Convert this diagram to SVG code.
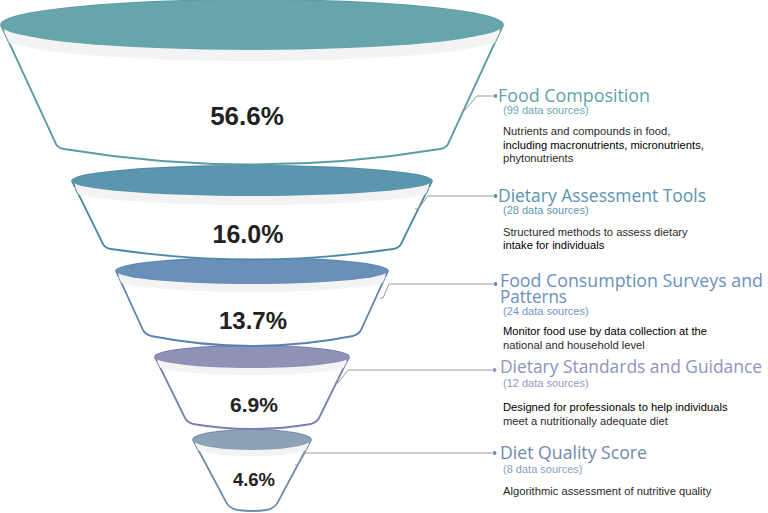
<svg xmlns="http://www.w3.org/2000/svg" width="768" height="513" viewBox="0 0 768 513">
<style>
.body{fill:#ffffff;stroke-width:1.8;stroke-linejoin:round}
.band{fill:#f3f3f3}
.pct{font-family:"Liberation Sans",Arial,sans-serif;font-weight:bold;fill:#222;text-anchor:middle}
.title{font-family:"Open Sans","Liberation Sans",sans-serif;font-size:18px}
.sub{font-family:"Liberation Sans",Arial,sans-serif;font-size:11px}
.desc{font-family:"Liberation Sans",Arial,sans-serif;font-size:11.2px;fill:#2a2a2a}
.descb{font-family:"Liberation Sans",Arial,sans-serif;font-size:11.2px;fill:#000}
.conn{fill:none;stroke:#9a9a9a;stroke-width:1}
</style>
<defs>
<clipPath id="c1"><path d="M1,25 L56,144 Q58,148 64,149 Q252,180 440,149 Q446,148 448,144 L503,25 Z"/></clipPath>
<clipPath id="c2"><path d="M72,181 L103,244 Q105,248 111,249 Q252,270 393,249 Q399,248 401,244 L432,181 Z"/></clipPath>
<clipPath id="c3"><path d="M116,271 L143,330 Q145,334 151,336 Q252,356 353,336 Q359,334 361,330 L388,271 Z"/></clipPath>
<clipPath id="c4"><path d="M155,357 L185,418 Q187,422 193,424 Q252,434 311,424 Q317,422 319,418 L349,357 Z"/></clipPath>
<clipPath id="c5"><path d="M193,440 L225,500 Q229,509 238,510 Q252,512 266,510 Q275,509 279,500 L311,440 Z"/></clipPath>
</defs>

<g id="seg5">
<path class="body" stroke="#6f8cab" d="M193,440 L225,500 Q229,509 238,510 Q252,512 266,510 Q275,509 279,500 L311,440 A59,10 0 0 0 193,440 Z"/>
<ellipse class="band" clip-path="url(#c5)" cx="252" cy="446" rx="60" ry="10"/>
<ellipse cx="252" cy="440" rx="59" ry="10" fill="#8ca2b6"/>
<text class="pct" x="254" y="486" font-size="18.5">4.6%</text>
</g>

<g id="seg4">
<path class="body" stroke="#7b7fb0" d="M155,357 L185,418 Q187,422 193,424 Q252,434 311,424 Q317,422 319,418 L349,357 A97,11 0 0 0 155,357 Z"/>
<ellipse class="band" clip-path="url(#c4)" cx="252" cy="364" rx="98" ry="11"/>
<ellipse cx="252" cy="357" rx="97" ry="11" fill="#8e92b6"/>
<text class="pct" x="254" y="412" font-size="21">6.9%</text>
</g>

<g id="seg3">
<path class="body" stroke="#5b80b2" d="M116,271 L143,330 Q145,334 151,336 Q252,356 353,336 Q359,334 361,330 L388,271 A136,13 0 0 0 116,271 Z"/>
<ellipse class="band" clip-path="url(#c3)" cx="252" cy="279" rx="137" ry="13"/>
<ellipse cx="252" cy="271" rx="136" ry="13" fill="#6890b9"/>
<text class="pct" x="253" y="329" font-size="24">13.7%</text>
</g>

<g id="seg2">
<path class="body" stroke="#4e8aa5" d="M72,181 L103,244 Q105,248 111,249 Q252,270 393,249 Q399,248 401,244 L432,181 A180,15 0 0 0 72,181 Z"/>
<ellipse class="band" clip-path="url(#c2)" cx="252" cy="190" rx="181" ry="15"/>
<ellipse cx="252" cy="181" rx="180" ry="15" fill="#5b95ae"/>
<text class="pct" x="248" y="243" font-size="25">16.0%</text>
</g>

<g id="seg1">
<path class="body" stroke="#5a9ca2" d="M1,25 L56,144 Q58,148 64,149 Q252,180 440,149 Q446,148 448,144 L503,25 A251,25 0 0 0 1,25 Z"/>
<ellipse class="band" clip-path="url(#c1)" cx="252" cy="36" rx="252" ry="25"/>
<ellipse cx="252" cy="25" rx="251" ry="25" fill="#66a5ab"/>
<text class="pct" x="247" y="125" font-size="26">56.6%</text>
</g>

<g id="connectors">
<polyline class="conn" points="462,110 465,110 477,96 493,96"/>
<circle cx="495.5" cy="96" r="2" fill="#5ea4a9"/>
<polyline class="conn" points="415,209 418,209 428,196 493,196"/>
<circle cx="495.5" cy="196" r="2" fill="#5b93ae"/>
<polyline class="conn" points="380,298 383,298 389,284 493,284"/>
<circle cx="495.5" cy="284" r="2" fill="#6a90c0"/>
<polyline class="conn" points="335,383 338,383 348,370 492,370"/>
<circle cx="494.5" cy="370" r="2" fill="#8e93c0"/>
<polyline class="conn" points="295,465 298,465 305,453 492,453"/>
<circle cx="494.5" cy="453" r="2" fill="#7088ad"/>
</g>

<g id="label1">
<text class="title" x="498" y="102" fill="#5ea4a9" textLength="152" lengthAdjust="spacingAndGlyphs">Food Composition</text>
<text class="sub" x="503" y="114" fill="#6aaab0">(99 data sources)</text>
<text class="desc" x="503" y="135">Nutrients and compounds in food,</text>
<text class="descb" x="503" y="149">including macronutrients, micronutrients,</text>
<text class="desc" x="503" y="162">phytonutrients</text>
</g>

<g id="label2">
<text class="title" x="498" y="202" fill="#5b93ae" textLength="208" lengthAdjust="spacingAndGlyphs">Dietary Assessment Tools</text>
<text class="sub" x="503" y="214" fill="#5f98b2">(28 data sources)</text>
<text class="desc" x="503" y="236">Structured methods to assess dietary</text>
<text class="descb" x="503" y="249">intake for individuals</text>
</g>

<g id="label3">
<text class="title" x="500" y="287" fill="#6a90c0" textLength="263" lengthAdjust="spacingAndGlyphs">Food Consumption Surveys and</text>
<text class="title" x="500" y="303" fill="#6a90c0" textLength="67" lengthAdjust="spacingAndGlyphs">Patterns</text>
<text class="sub" x="503" y="315" fill="#7196c2">(24 data sources)</text>
<text class="descb" x="503" y="335">Monitor food use by data collection at the</text>
<text class="desc" x="503" y="349">national and household level</text>
</g>

<g id="label4">
<text class="title" x="500" y="373" fill="#8e93c0" font-size="17.5" textLength="262" lengthAdjust="spacingAndGlyphs">Dietary Standards and Guidance</text>
<text class="sub" x="503" y="387" fill="#9599c2">(12 data sources)</text>
<text class="descb" x="503" y="411">Designed for professionals to help individuals</text>
<text class="desc" x="503" y="425">meet a nutritionally adequate diet</text>
</g>

<g id="label5">
<text class="title" x="500" y="459" fill="#7088ad" textLength="147" lengthAdjust="spacingAndGlyphs">Diet Quality Score</text>
<text class="sub" x="503" y="473" fill="#8a9fbb">(8 data sources)</text>
<text class="desc" x="503" y="495">Algorithmic assessment of nutritive quality</text>
</g>
</svg>
